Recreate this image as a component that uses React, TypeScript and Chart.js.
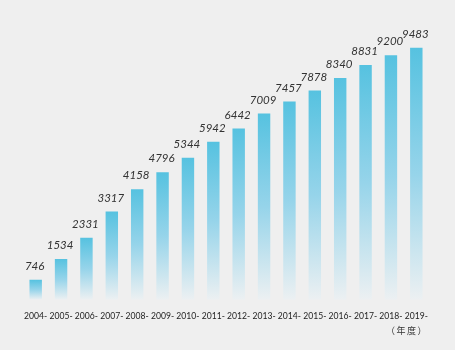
import React, { useEffect, useRef } from "react";
import { Chart, registerables } from "chart.js";

Chart.register(...registerables);

const years = ["2004-", "2005-", "2006-", "2007-", "2008-", "2009-", "2010-", "2011-", "2012-", "2013-", "2014-", "2015-", "2016-", "2017-", "2018-", "2019-"];
const counts = [746, 1534, 2331, 3317, 4158, 4796, 5344, 5942, 6442, 7009, 7457, 7878, 8340, 8831, 9200, 9483];
const unitLabel = "（年度）";

const BG = "#efefef";

const valueLabels = {
  id: "valueLabels",
  afterDatasetsDraw(chart: any) {
    const { ctx } = chart;
    const meta = chart.getDatasetMeta(0);
    ctx.save();
    ctx.font = "italic 11.5px Lato";
    ctx.fillStyle = "#333";
    ctx.textAlign = "center";
    ctx.textBaseline = "middle";
    meta.data.forEach((bar: any, i: number) => {
      ctx.fillText(String(counts[i]), bar.x - 1, bar.y - 13.5);
    });
    ctx.restore();
  },
};

const unitPlugin = {
  id: "unitLabel",
  afterDraw(chart: any) {
    const { ctx, chartArea } = chart;
    ctx.save();
    ctx.font = "9px 'Noto Sans CJK JP'";
    (ctx as any).letterSpacing = "1.5px";
    ctx.fillStyle = "#333";
    ctx.textAlign = "right";
    ctx.textBaseline = "middle";
    ctx.fillText(unitLabel, chartArea.right - 1, chartArea.bottom + 31);
    ctx.restore();
  },
};

const bgPlugin = {
  id: "bgFill",
  beforeDraw(chart: any) {
    const { ctx, width, height } = chart;
    ctx.save();
    ctx.fillStyle = BG;
    ctx.fillRect(0, 0, width, height);
    ctx.restore();
  },
};

export default function App() {
  const ref = useRef<HTMLCanvasElement>(null);
  useEffect(() => {
    document.body.style.margin = "0";
    document.body.style.background = BG;
    const chart = new Chart(ref.current!, {
      type: "bar",
      data: {
        labels: years,
        datasets: [
          {
            data: counts,
            backgroundColor: (c: any) => {
              const chart = c.chart;
              const y = chart.scales?.y;
              if (!y || c.raw === undefined) return "#5bc3e0";
              const top = y.getPixelForValue(c.raw);
              const bottom = y.getPixelForValue(0);
              if (!isFinite(top) || !isFinite(bottom) || top === bottom) return "#5bc3e0";
              const g = chart.ctx.createLinearGradient(0, top, 0, bottom);
              g.addColorStop(0, "rgba(86,194,224,1)");
              g.addColorStop(0.5, "rgba(150,212,234,1)");
              g.addColorStop(1, "rgba(236,240,242,1)");
              return g;
            },
            borderWidth: 0,
            barPercentage: 0.98,
            categoryPercentage: 0.5,
          },
        ],
      },
      options: {
        responsive: false,
        animation: false,
        layout: { padding: { left: 23, right: 26, top: 34, bottom: 18 } },
        plugins: {
          legend: { display: false },
          tooltip: { enabled: false },
        },
        scales: {
          x: {
            grid: { display: false, drawTicks: false },
            border: { display: false },
            ticks: {
              color: "#222",
              font: { family: "Lato", size: 8.6 },
              padding: 11,
              maxRotation: 0,
              autoSkip: false,
            },
          },
          y: {
            display: false,
            min: 0,
            max: 10000,
          },
        },
      },
      plugins: [bgPlugin, valueLabels, unitPlugin],
    });
    return () => chart.destroy();
  }, []);
  return (
    <div style={{ width: 455, height: 350, background: BG }}>
      <canvas ref={ref} width={455} height={350} style={{ display: "block" }} />
    </div>
  );
}
